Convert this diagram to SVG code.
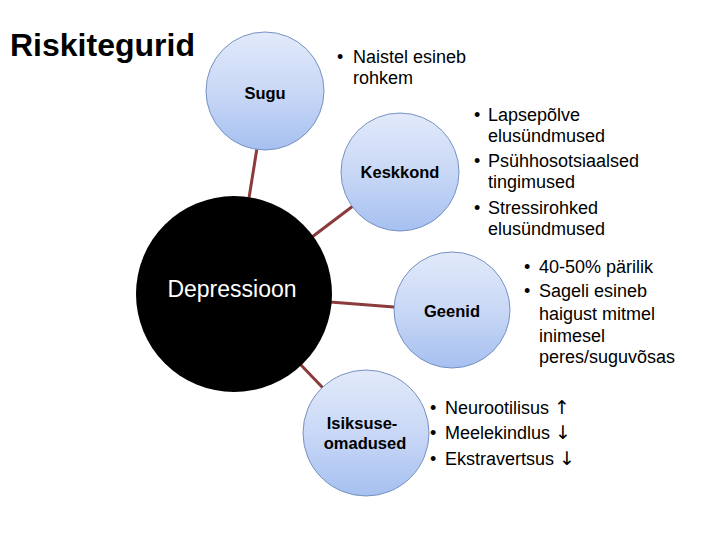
<svg xmlns="http://www.w3.org/2000/svg" width="720" height="540" viewBox="0 0 720 540">
<defs>
<linearGradient id="bub" x1="0" y1="0" x2="0" y2="1">
<stop offset="0" stop-color="#e2eafa"/>
<stop offset="0.5" stop-color="#c9d8f6"/>
<stop offset="1" stop-color="#a6c0f0"/>
</linearGradient>
<style>
.bub{fill:url(#bub);stroke:#7591c2;stroke-width:1}
.lbl{font-family:"Liberation Sans",Arial,sans-serif;font-weight:bold;font-size:16.5px;fill:#000;text-anchor:middle}
.txt{font-family:"Liberation Sans",Arial,"DejaVu Sans",sans-serif;font-size:18px;fill:#000}
.arr{font-family:"DejaVu Sans",sans-serif;font-size:19px}
.con{stroke:#8b3b3b;stroke-width:3;fill:none}
</style>
</defs>
<rect width="720" height="540" fill="#fff"/>
<text x="10" y="56" style="font-family:'Liberation Sans',Arial,sans-serif;font-weight:bold;font-size:32px">Riskitegurid</text>
<g id="connectors">
<line class="con" x1="257" y1="148" x2="249" y2="198"/>
<line class="con" x1="353" y1="206" x2="312" y2="237"/>
<line class="con" x1="330" y1="302" x2="394" y2="307"/>
<line class="con" x1="300" y1="364" x2="323" y2="388"/>
</g>
<g id="depressioon">
<circle cx="234" cy="294" r="98" fill="#000"/>
<text x="232" y="297" style="font-family:'Liberation Sans',Arial,sans-serif;font-size:23px;fill:#fff;text-anchor:middle">Depressioon</text>
</g>
<g id="sugu">
<circle class="bub" cx="265" cy="91" r="59"/>
<text class="lbl" x="265" y="99">Sugu</text>
</g>
<g id="keskkond">
<circle class="bub" cx="400" cy="172" r="59"/>
<text class="lbl" x="400" y="178">Keskkond</text>
</g>
<g id="geenid">
<circle class="bub" cx="452" cy="310" r="58"/>
<text class="lbl" x="452" y="317">Geenid</text>
</g>
<g id="isiksuseomadused">
<circle class="bub" cx="366" cy="433" r="63"/>
<text class="lbl" x="362" y="429">Isiksuse-</text>
<text class="lbl" x="365" y="449">omadused</text>
</g>
<g id="sugu-text" class="txt">
<text x="337" y="63">•</text>
<text x="353" y="63">Naistel esineb</text>
<text x="353" y="84">rohkem</text>
</g>
<g id="keskkond-text" class="txt">
<text x="474" y="121">•</text>
<text x="488" y="121">Lapsepõlve</text>
<text x="488" y="142">elusündmused</text>
<text x="474" y="167">•</text>
<text x="488" y="167">Psühhosotsiaalsed</text>
<text x="488" y="188">tingimused</text>
<text x="474" y="214">•</text>
<text x="488" y="214">Stressirohked</text>
<text x="488" y="235">elusündmused</text>
</g>
<g id="geenid-text" class="txt">
<text x="524" y="273">•</text>
<text x="539" y="273">40-50% pärilik</text>
<text x="524" y="297">•</text>
<text x="539" y="297">Sageli esineb</text>
<text x="539" y="320">haigust mitmel</text>
<text x="539" y="342">inimesel</text>
<text x="539" y="363">peres/suguvõsas</text>
</g>
<g id="isiksus-text" class="txt">
<text x="430" y="414">•</text>
<text x="445" y="414">Neurootilisus <tspan class="arr">↑</tspan></text>
<text x="430" y="439">•</text>
<text x="445" y="439">Meelekindlus <tspan class="arr">↓</tspan></text>
<text x="430" y="465">•</text>
<text x="445" y="465">Ekstravertsus <tspan class="arr">↓</tspan></text>
</g>
</svg>
